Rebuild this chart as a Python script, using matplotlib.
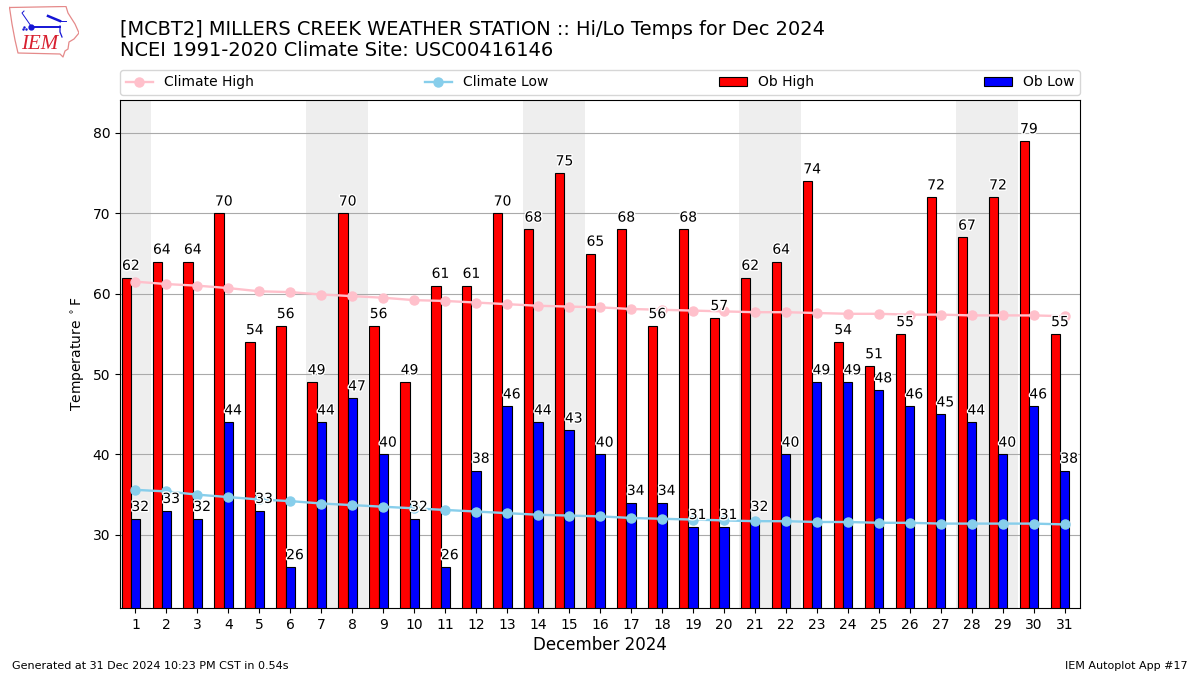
import matplotlib
matplotlib.use("Agg")
import matplotlib.pyplot as plt
import matplotlib.patheffects as pe
import numpy as np

days = np.arange(1, 32)
ob_high = [62, 64, 64, 70, 54, 56, 49, 70, 56, 49, 61, 61, 70, 68, 75, 65,
           68, 56, 68, 57, 62, 64, 74, 54, 51, 55, 72, 67, 72, 79, 55]
ob_low = [32, 33, 32, 44, 33, 26, 44, 47, 40, 32, 26, 38, 46, 44, 43, 40,
          34, 34, 31, 31, 32, 40, 49, 49, 48, 46, 45, 44, 40, 46, 38]
climo_high = [61.5, 61.2, 61.0, 60.7, 60.3, 60.2, 59.9, 59.7, 59.5, 59.2, 59.1,
              58.9, 58.7, 58.5, 58.4, 58.3, 58.1, 58.0, 57.9, 57.8, 57.7, 57.7,
              57.6, 57.5, 57.5, 57.4, 57.4, 57.3, 57.3, 57.3, 57.2]
climo_low = [35.6, 35.4, 35.0, 34.7, 34.4, 34.2, 33.9, 33.7, 33.5, 33.3, 33.1,
             32.9, 32.7, 32.5, 32.4, 32.3, 32.1, 32.0, 31.9, 31.8, 31.7, 31.7,
             31.6, 31.6, 31.5, 31.5, 31.4, 31.4, 31.4, 31.4, 31.3]
weekends = [(0.5, 1.5), (6.5, 8.5), (13.5, 15.5), (20.5, 22.5), (27.5, 29.5)]

# logo outline, in pixels of the figure
iowa_x = [9.5, 66, 68, 75, 79, 74, 69, 68, 65, 63, 60, 18, 15, 12, 9.5]
iowa_y = [7.5, 6.5, 13, 24, 33, 39, 42, 49, 51, 57, 54, 53, 40, 24, 7.5]

fig = plt.figure(figsize=(12, 6.75), dpi=100)
ax = fig.add_axes([0.1, 1 - 608 / 675, 0.8, 508 / 675])

for start, end in weekends:
    ax.axvspan(start, end, color="#eeeeee", lw=0, zorder=0)

ax.set_axisbelow(True)
ax.grid(axis="y", color="#aaaaaa", lw=0.8)

width = 0.3
# blue bar sits on the day, red one to the left of it
ax.bar(days - width, ob_high, width, color="r", edgecolor="k", lw=0.8, label="Ob High", zorder=2)
ax.bar(days, ob_low, width, color="b", edgecolor="k", lw=0.8, label="Ob Low", zorder=2)
ax.plot(days, climo_high, "-o", color="pink", lw=1.7, ms=6.5, label="Climate High", zorder=3)
ax.plot(days, climo_low, "-o", color="skyblue", lw=1.7, ms=6.5, label="Climate Low", zorder=3)

halo = [pe.withStroke(linewidth=2, foreground="white")]
for day, hi, lo in zip(days, ob_high, ob_low):
    ax.text(day - width / 2, hi + 0.6, str(hi), ha="center", va="bottom", fontsize=10,
            path_effects=halo, zorder=4)
    ax.text(day + width / 2, lo + 0.6, str(lo), ha="center", va="bottom", fontsize=10,
            path_effects=halo, zorder=4)

ax.set_xlim(0.5, 31.5)
ax.set_ylim(20.9, 84.1)
ax.set_xticks(days)
ax.set_yticks([30, 40, 50, 60, 70, 80])
ax.set_xlabel("December 2024", fontsize=12, labelpad=3)
ax.set_ylabel(r"Temperature $^\circ$F", fontsize=10)

ax.legend(loc="lower left", bbox_to_anchor=(0, 1.01, 1, 0.05), ncol=4, mode="expand",
          borderaxespad=0, fontsize=10)

fig.text(120 / 1200, 1 - 29.5 / 675, "[MCBT2] MILLERS CREEK WEATHER STATION :: Hi/Lo Temps for Dec 2024",
         fontsize=13.98, va="center")
fig.text(120 / 1200, 1 - 51 / 675, "NCEI 1991-2020 Climate Site: USC00416146", fontsize=13.98, va="center")
fig.text(12 / 1200, 1 - 666 / 675, "Generated at 31 Dec 2024 10:23 PM CST in 0.54s", fontsize=8, va="center")
fig.text(1188 / 1200, 1 - 666 / 675, "IEM Autoplot App #17", fontsize=8, va="center", ha="right")

# small IEM logo, drawn in figure pixels
logo = fig.add_axes([9 / 1200, 1 - 58 / 675, 70 / 1200, 52 / 675])
logo.axis("off")
logo.set_xlim(9, 79)
logo.set_ylim(58, 6)
logo.plot(iowa_x, iowa_y, color="#e58a8a", lw=0.9)
blue = "#1515d5"
logo.plot([31, 60], [26.5, 26.5], color=blue, lw=1.4)
logo.plot([31], [26.5], "o", color=blue, ms=3.5)
logo.plot([31, 22, 24], [26, 13, 11], color=blue, lw=0.7)
logo.plot([48, 60], [16, 21], color=blue, lw=1.8)
logo.plot([60, 66], [20.5, 20.5], color=blue, lw=0.7)
logo.plot([60, 60, 62], [26, 32, 37], color=blue, lw=0.9)
logo.plot([24, 26, 23], [27, 29, 29], ".", color=blue, ms=1.5)
logo.text(21, 44.5, "IEM", color="#d82030", fontsize=15, style="italic", family="Liberation Serif",
          va="center")

fig.savefig("out.png", dpi=100)
